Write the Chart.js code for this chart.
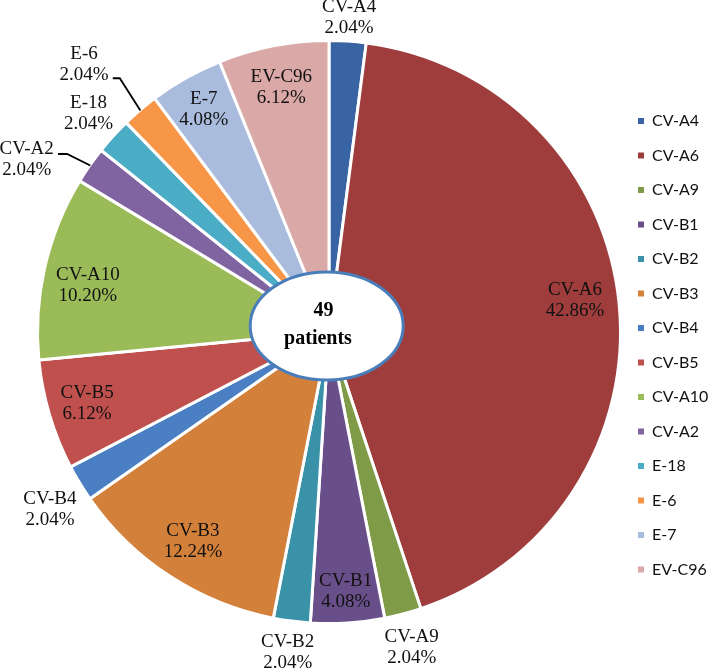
<!DOCTYPE html>
<html>
<head>
<meta charset="utf-8">
<script src="https://cdn.jsdelivr.net/npm/chart.js@4.4.1/dist/chart.umd.min.js"></script>
<style>
  html, body { margin: 0; padding: 0; background: #ffffff; }
  #wrap { position: relative; width: 709px; height: 671px; }
</style>
</head>
<body>
<div id="wrap"><canvas id="c" width="709" height="671"></canvas></div>
<script>
// ---- data ----
const categories = ['CV-A4','CV-A6','CV-A9','CV-B1','CV-B2','CV-B3','CV-B4','CV-B5','CV-A10','CV-A2','E-18','E-6','E-7','EV-C96'];
const patientCounts = [1, 21, 1, 2, 1, 6, 1, 3, 5, 1, 1, 1, 2, 3];
const totalPatients = 49;
const centerLines = ['49', 'patients'];

// ---- styles ----
const sliceColors = ['#3864a3','#9e3d3c','#7f9b47','#694f8a','#3a92a8','#d3803a','#4a7fc3','#c0504d','#9bbb59','#8064a2','#4bacc6','#f79646','#a9bcdd','#d9a8a7'];
// label placement: r = fraction of radius, da = angle shift (deg, clockwise), leader = elbow line
const labelPlacement = [
  {r: 1.085}, {r: 0.855, da: -1.7}, {r: 1.124}, {r: 0.897}, {r: 1.114},
  {r: 0.86}, {r: 1.14, da: -1.2}, {r: 0.87}, {r: 0.847, da: -1.9},
  {r: 1.2, da: -5.2, leader: {r: 1.092, da: -0.7, h: 9}},
  {r: 1.12},
  {r: 1.25, da: -2.1, leader: {r: 1.134, da: 0.9, h: 7}},
  {r: 0.88}, {r: 0.86}
];

const pctText = patientCounts.map(v => (v / totalPatients * 100).toFixed(2) + '%');
const LABEL_FONT = '19px "Liberation Serif", "Times New Roman", serif';

const labelPlugin = {
  id: 'sliceLabels',
  afterDatasetsDraw(chart) {
    const ctx = chart.ctx;
    const meta = chart.getDatasetMeta(0);
    // center ellipse
    const a0 = meta.data[0].getProps(['x','y'], true);
    ctx.save();
    ctx.beginPath();
    ctx.ellipse(a0.x - 2.3, a0.y - 6, 76.5, 54, 0, 0, Math.PI * 2);
    ctx.fillStyle = '#ffffff';
    ctx.fill();
    ctx.lineWidth = 3;
    ctx.strokeStyle = '#4a7ebb';
    ctx.stroke();
    ctx.fillStyle = '#000000';
    ctx.font = 'bold 20px "Liberation Serif", "Times New Roman", serif';
    ctx.textAlign = 'center';
    ctx.textBaseline = 'alphabetic';
    ctx.fillText(centerLines[0], a0.x - 5.5, a0.y - 16);
    ctx.fillText(centerLines[1], a0.x - 11, a0.y + 12);
    ctx.restore();

    ctx.save();
    ctx.font = LABEL_FONT;
    ctx.fillStyle = '#111111';
    ctx.textAlign = 'center';
    ctx.textBaseline = 'middle';
    meta.data.forEach((arc, i) => {
      const p = arc.getProps(['x','y','startAngle','endAngle','outerRadius'], true);
      const pl = labelPlacement[i];
      const mid = (p.startAngle + p.endAngle) / 2;
      const ang = mid + (pl.da || 0) * Math.PI / 180;
      const R = 290;
      const lx = p.x + Math.cos(ang) * R * pl.r;
      const ly = p.y + Math.sin(ang) * R * pl.r;
      if (pl.leader) {
        const ea = mid + (pl.leader.da || 0) * Math.PI / 180;
        const sx = p.x + Math.cos(mid) * (R + 1);
        const sy = p.y + Math.sin(mid) * (R + 1);
        const ex = p.x + Math.cos(ea) * R * pl.leader.r;
        const ey = p.y + Math.sin(ea) * R * pl.leader.r;
        ctx.beginPath();
        ctx.moveTo(sx, sy);
        ctx.lineTo(ex, ey);
        ctx.lineTo(ex - pl.leader.h, ey);
        ctx.lineWidth = 1.8;
        ctx.strokeStyle = '#000000';
        ctx.stroke();
      }
      ctx.fillText(categories[i], lx, ly - 10.5);
      ctx.fillText(pctText[i], lx, ly + 10.5);
    });
    ctx.restore();
  }
};

const legendPlace = {
  id: 'legendPlace',
  beforeDraw(chart) {
    const lg = chart.legend;
    if (!lg) return;
    lg.left = 619.5;
    lg.right = 709;
    lg.top = 94.5;
    lg.bottom = 671;
    lg.width = lg.right - lg.left;
    lg.height = lg.bottom - lg.top;
    if (lg.adjustHitBoxes) lg.adjustHitBoxes();
  }
};

const baseGen = (Chart.overrides.doughnut && Chart.overrides.doughnut.plugins.legend.labels.generateLabels);

new Chart(document.getElementById('c'), {
  type: 'pie',
  data: {
    labels: categories,
    datasets: [{
      data: patientCounts,
      backgroundColor: sliceColors,
      borderColor: '#ffffff',
      borderWidth: 3,
      hoverOffset: 0
    }]
  },
  options: {
    responsive: false,
    animation: false,
    radius: 291.5,
    layout: { padding: { left: 0, right: 51, top: 0, bottom: 7 } },
    plugins: {
      tooltip: { enabled: false },
      legend: {
        position: 'chartArea',
        align: 'start',
        labels: {
          font: { family: 'Lato, "Open Sans", sans-serif', size: 16 },
          color: '#111111',
          boxWidth: 6,
          boxHeight: 6,
          padding: 18.5,
          generateLabels(chart) {
            return baseGen(chart).map(l => Object.assign({}, l, { lineWidth: 0, strokeStyle: l.fillStyle }));
          }
        }
      }
    }
  },
  plugins: [labelPlugin, legendPlace]
});
</script>
</body>
</html>
